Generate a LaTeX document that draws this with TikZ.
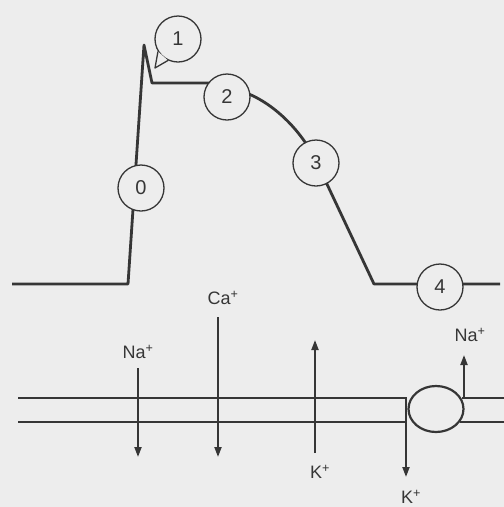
\documentclass[tikz,border=0pt]{standalone}
\usepackage{fontspec}
\setmainfont{Liberation Sans}
\usetikzlibrary{arrows.meta,shapes.geometric}

\definecolor{ink}{HTML}{363636}
\definecolor{paper}{HTML}{EDEDED}

\tikzset{
    stage/.style={circle, draw=ink, line width=1.3pt, fill=paper,
        minimum size=46pt, inner sep=0pt, text=ink,
        font=\fontsize{20}{20}\selectfont},
    apcurve/.style={draw=ink, line width=2.8pt, line join=round},
    wall/.style={draw=ink, line width=2.6pt},
    ion/.style={draw=ink, line width=2pt, -{Triangle[length=10pt,width=7pt]}},
    ionlabel/.style={font=\fontsize{18}{18}\selectfont, text=ink, inner sep=1pt}
}

\begin{document}
\begin{tikzpicture}[x=1pt,y=-1pt]

\fill[paper] (0,0) rectangle (504,507);
\useasboundingbox (0,0) rectangle (504,507);

% ===== Duong dien the hoat dong =====
\coordinate (rest) at (12,284);
\coordinate (foot) at (128,284);
\coordinate (peak) at (144,45);
\coordinate (notch) at (152,83);
\coordinate (plat) at (210,83);
\coordinate (platend) at (227,88);
\coordinate (fall) at (318,165);
\coordinate (low) at (374,284);
\coordinate (tail) at (500,284);
\draw[apcurve] (rest) -- (foot) -- (peak) -- (notch) -- (plat) -- (platend)
    .. controls (262,92) and (300,125) .. (fall) -- (low) -- (tail);

% ===== Cac pha =====
\node[stage] (s0) at (141,188) {0};
\node[stage] (s2) at (227,97) {2};
\node[stage] (s3) at (316,163) {3};
\node[stage] (s4) at (440,287) {4};
\node[stage] (s1) at (178,39) {1};
\coordinate (tip) at (155,68);
\fill[paper] (s1.212) -- (tip) -- (s1.245) -- cycle;
\draw[ink, line width=1.3pt, line join=round] (s1.212) -- (tip) -- (s1.245);

% ===== Mang te bao =====
\node[ellipse, draw=ink, line width=2.2pt, minimum width=55pt, minimum height=46pt,
    inner sep=0pt] (pump) at (436,409) {};
\coordinate (topL) at (18,398);
\coordinate (topR) at (406,398);
\coordinate (botR) at (406,422);
\coordinate (botL) at (18,422);
\coordinate (outTop) at (462,398);
\coordinate (outBot) at (460,422);
\draw[wall] (topL) -- (topR) -- (botR) -- (botL);
\draw[wall] (outTop) -- (504,398);
\draw[wall] (outBot) -- (504,422);

% ===== Dong ion =====
\foreach \n/\x/\ya/\yb in {naIn/138/368/457, caIn/218/317/457, kOut/315/453/340,
    kPump/406/422/477, naPump/464/398/355} {
    \coordinate (\n-a) at (\x,\ya);
    \coordinate (\n-b) at (\x,\yb);
    \draw[ion] (\n-a) -- (\n-b);
}

\node[ionlabel] (naInL) at (138,352) {Na\textsuperscript{+}};
\node[ionlabel] (caInL) at (223,298) {Ca\textsuperscript{+}};
\node[ionlabel] (kOutL) at (320,472) {K\textsuperscript{+}};
\node[ionlabel] (kPumpL) at (411,497) {K\textsuperscript{+}};
\node[ionlabel] (naPumpL) at (470,335) {Na\textsuperscript{+}};

\end{tikzpicture}
\end{document}
